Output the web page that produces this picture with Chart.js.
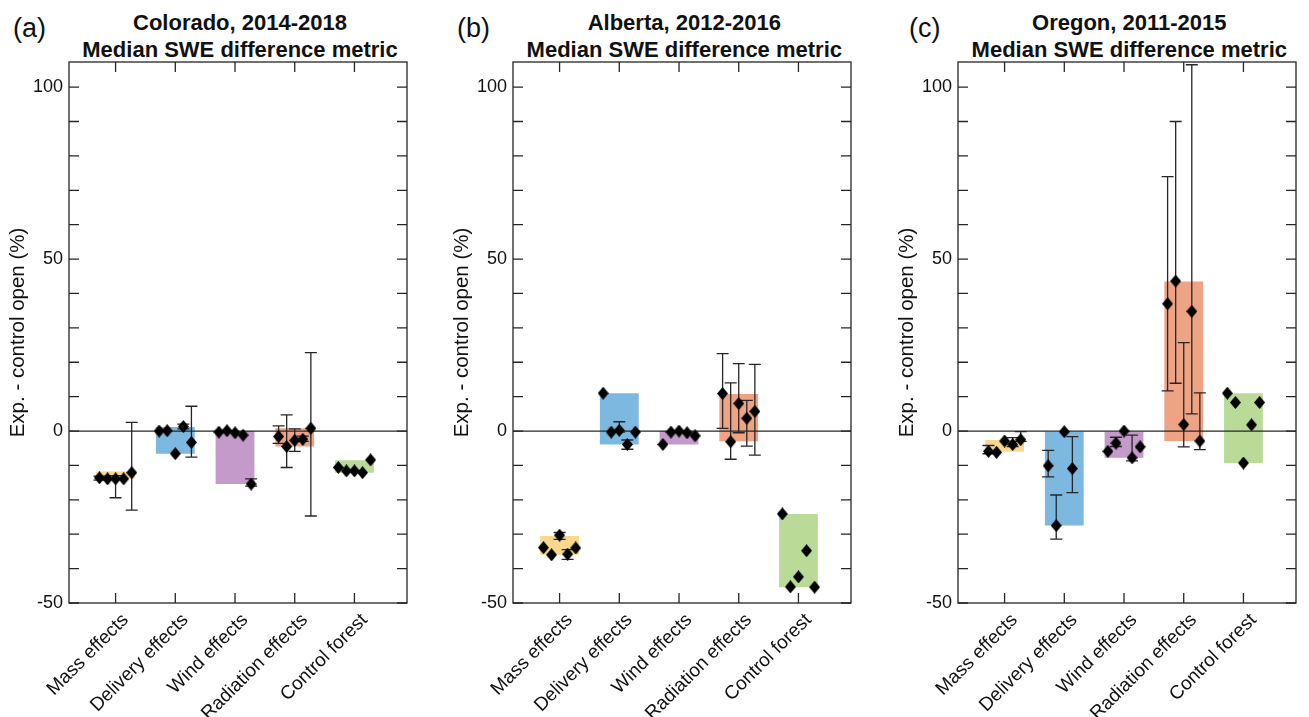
<!DOCTYPE html>
<html>
<head>
<meta charset="utf-8">
<script src="https://cdn.jsdelivr.net/npm/chart.js@4.4.1/dist/chart.umd.min.js"></script>
<style>
  body { margin: 0; background: #fff; overflow: hidden; width: 1309px; height: 717px; position: relative;
         font-family: "Liberation Sans", Arial, sans-serif; color: #111; }
  .panel { position: absolute; top: 0; }
  .letter { position: absolute; top: 13px; font-size: 27px; }
  .title { position: absolute; top: 9px; width: 400px; font-weight: bold; font-size: 22px; line-height: 27px; text-align: center; }
</style>
</head>
<body>
<script>
// categories shared by the three panels
const categories = ['Mass effects', 'Delivery effects', 'Wind effects', 'Radiation effects', 'Control forest'];
const yTicks = [-50, 0, 50, 100];

// Colorado, 2014-2018
const coBarLow  = [-13.8, -6.6, -15.4, -4.5, -12.1];
const coBarHigh = [-11.8, 1.2, 0, 0.8, -8.5];
const coPoints = [
    [-13.6, -13.9, -13.9, -13.9, -12.1],
    [0.0, 0.1, -6.6, 1.3, -3.3],
    [-0.3, 0.1, -0.5, -1.2, -15.4],
    [-1.6, -4.5, -2.7, -2.4, 0.8],
    [-10.6, -11.6, -11.6, -12.1, -8.4]
];
const coErrLow = [
    [-14.3, null, -19.4, null, -23.0],
    [null, null, null, 0.6, -7.6],
    [null, null, null, null, -16.0],
    [-3.6, -10.6, -5.9, -3.0, -24.7],
    [null, null, null, null, null]
];
const coErrHigh = [
    [-13.1, null, -13.0, null, 2.5],
    [null, null, null, 2.0, 7.2],
    [null, null, null, null, -13.9],
    [1.5, 4.7, 0.6, -1.5, 22.8],
    [null, null, null, null, null]
];

// Alberta, 2012-2016
const abBarLow  = [-36.0, -3.9, -3.9, -3.0, -45.4];
const abBarHigh = [-30.5, 11.0, 0, 10.8, -24.1];
const abPoints = [
    [-33.9, -36.0, -30.3, -35.8, -34.0],
    [11.0, -0.3, 0.2, -3.9, -0.3],
    [-3.9, -0.3, 0.0, -0.5, -1.4],
    [10.9, -3.1, 8.0, 3.7, 5.7],
    [-24.1, -45.3, -42.4, -34.8, -45.4]
];
const abErrLow = [
    [null, null, -31.5, -37.3, null],
    [null, null, -0.3, -5.3, null],
    [null, null, null, null, null],
    [0.8, -8.2, -0.5, -4.4, -7.0],
    [null, null, null, null, null]
];
const abErrHigh = [
    [null, null, -29.5, -34.5, null],
    [null, null, 2.7, -2.6, null],
    [null, null, null, null, null],
    [22.5, 14.0, 19.6, 8.9, 19.4],
    [null, null, null, null, null]
];

// Oregon, 2011-2015
const orBarLow  = [-6.0, -27.5, -7.8, -2.9, -9.3];
const orBarHigh = [-2.6, -0.2, -0.2, 43.5, 11.0];
const orPoints = [
    [-5.9, -6.2, -2.9, -3.9, -2.5],
    [-10.1, -27.5, -0.2, -10.9, null],
    [-5.9, -3.5, 0.0, -7.8, -4.6],
    [37.0, 43.6, 1.9, 34.8, -2.9],
    [11.0, 8.3, -9.3, 1.8, 8.3]
];
const orErrLow = [
    [-6.6, null, null, -4.5, -3.0],
    [-13.3, -31.4, null, -17.9, null],
    [null, -4.5, null, -8.7, null],
    [11.7, 13.9, -4.6, 5.0, -5.4],
    [null, null, null, null, null]
];
const orErrHigh = [
    [-4.2, null, null, -1.9, -0.2],
    [-5.6, -18.6, null, -1.6, null],
    [null, -1.8, null, -1.2, null],
    [74.0, 90.0, 25.7, 106.5, 11.1],
    [null, null, null, null, null]
];

const barColors = ['#f7d88c', '#7db8e0', '#c39aca', '#eea484', '#badb98'];
const jitter = [-0.27, -0.135, 0, 0.135, 0.27];
const FONT = '"Liberation Sans", Arial, sans-serif';
const INK = '#262626';

const panels = [
    { letter: '(a)', letterX: 13, title: ['Colorado, 2014-2018', 'Median SWE difference metric'], left: 0,
      barLow: coBarLow, barHigh: coBarHigh, points: coPoints, errLow: coErrLow, errHigh: coErrHigh },
    { letter: '(b)', letterX: 457, title: ['Alberta, 2012-2016', 'Median SWE difference metric'], left: 444.3,
      barLow: abBarLow, barHigh: abBarHigh, points: abPoints, errLow: abErrLow, errHigh: abErrHigh },
    { letter: '(c)', letterX: 909, title: ['Oregon, 2011-2015', 'Median SWE difference metric'], left: 889.3,
      barLow: orBarLow, barHigh: orBarHigh, points: orPoints, errLow: orErrLow, errHigh: orErrHigh }
];

// tall black diamond marker
const diamond = document.createElement('canvas');
diamond.width = 11; diamond.height = 13;
(function () {
    const c = diamond.getContext('2d');
    c.fillStyle = '#000';
    c.beginPath();
    c.moveTo(5.5, 0); c.lineTo(11, 6.5); c.lineTo(5.5, 13); c.lineTo(0, 6.5);
    c.closePath(); c.fill();
})();

// zero line + error bars after the bars, frame with inward ticks at the end
const framePlugin = {
    id: 'frame',
    afterDatasetDraw(chart, args) {
        if (args.index !== 0) return;
        const ctx = chart.ctx, x = chart.scales.x, y = chart.scales.y, a = chart.chartArea;
        ctx.save();
        ctx.strokeStyle = INK;
        ctx.lineWidth = 1.3;
        const y0 = y.getPixelForValue(0);
        ctx.beginPath(); ctx.moveTo(a.left, y0); ctx.lineTo(a.right, y0); ctx.stroke();
        chart.data.datasets[1].data.forEach(p => {
            if (p.lo === null || p.hi === null) return;
            const px = x.getPixelForValue(p.x);
            const yl = y.getPixelForValue(p.lo), yh = y.getPixelForValue(p.hi);
            ctx.beginPath();
            ctx.moveTo(px, yl); ctx.lineTo(px, yh);
            ctx.moveTo(px - 6, yl); ctx.lineTo(px + 6, yl);
            ctx.moveTo(px - 6, yh); ctx.lineTo(px + 6, yh);
            ctx.stroke();
        });
        ctx.restore();
    },
    afterDraw(chart) {
        const ctx = chart.ctx, x = chart.scales.x, y = chart.scales.y, a = chart.chartArea;
        const len = 10;
        ctx.save();
        ctx.strokeStyle = INK;
        ctx.lineWidth = 1.3;
        ctx.strokeRect(a.left, a.top, a.right - a.left, a.bottom - a.top);
        ctx.beginPath();
        for (let v = -50; v <= y.max; v += 10) {
            const py = y.getPixelForValue(v);
            ctx.moveTo(a.left, py); ctx.lineTo(a.left + len, py);
            ctx.moveTo(a.right, py); ctx.lineTo(a.right - len, py);
        }
        categories.forEach((c, i) => {
            const px = x.getPixelForValue(i + 1);
            ctx.moveTo(px, a.bottom); ctx.lineTo(px, a.bottom - len);
            ctx.moveTo(px, a.top); ctx.lineTo(px, a.top + len);
        });
        ctx.stroke();
        ctx.restore();
    }
};

function makePanel(p) {
    const letter = document.createElement('div');
    letter.className = 'letter';
    letter.style.left = p.letterX + 'px';
    letter.textContent = p.letter;
    document.body.appendChild(letter);

    const title = document.createElement('div');
    title.className = 'title';
    title.style.left = (p.left + 240 - 200) + 'px';
    title.innerHTML = p.title.join('<br>');
    document.body.appendChild(title);

    const canvas = document.createElement('canvas');
    canvas.className = 'panel';
    canvas.width = 420; canvas.height = 717;
    canvas.style.left = p.left + 'px';
    document.body.appendChild(canvas);

    const bars = categories.map((c, i) => ({ x: i + 1, y: [p.barLow[i], p.barHigh[i]] }));
    const pts = [];
    p.points.forEach((row, i) => row.forEach((v, j) => {
        if (v === null) return;
        pts.push({ x: i + 1 + jitter[j], y: v, lo: p.errLow[i][j], hi: p.errHigh[i][j] });
    }));

    new Chart(canvas, {
        type: 'bar',
        data: {
            datasets: [
                { type: 'bar', data: bars, backgroundColor: barColors, borderWidth: 0,
                  barPercentage: 0.65, categoryPercentage: 1, order: 2 },
                { type: 'scatter', data: pts, pointStyle: diamond, pointRadius: 6,
                  backgroundColor: '#000', order: 1 }
            ]
        },
        options: {
            responsive: false,
            animation: false,
            layout: { padding: { top: 62, right: 13, left: 0, bottom: 0 } },
            plugins: { legend: { display: false }, tooltip: { enabled: false } },
            scales: {
                x: {
                    type: 'linear', min: 0.22, max: 5.88, offset: false,
                    grid: { display: false, offset: false }, border: { display: false },
                    afterBuildTicks: s => { s.ticks = categories.map((c, i) => ({ value: i + 1 })); },
                    afterFit: s => { s.height = 114; },
                    ticks: {
                        autoSkip: false, minRotation: 45, maxRotation: 45, padding: -2, labelOffset: 10,
                        color: '#111', font: { family: FONT, size: 19 },
                        callback: v => categories[v - 1]
                    }
                },
                y: {
                    min: -50, max: 107.3,
                    grid: { display: false, drawTicks: false }, border: { display: false },
                    afterBuildTicks: s => { s.ticks = yTicks.map(v => ({ value: v })); },
                    afterFit: s => { s.width = 69; },
                    ticks: { padding: 6, color: '#111', font: { family: FONT, size: 18 } },
                    title: { display: true, text: 'Exp. - control open (%)', color: '#111',
                             padding: { top: 6, bottom: 0 }, font: { family: FONT, size: 20.5 } }
                }
            }
        },
        plugins: [framePlugin]
    });
}

panels.forEach(makePanel);
</script>
</body>
</html>
